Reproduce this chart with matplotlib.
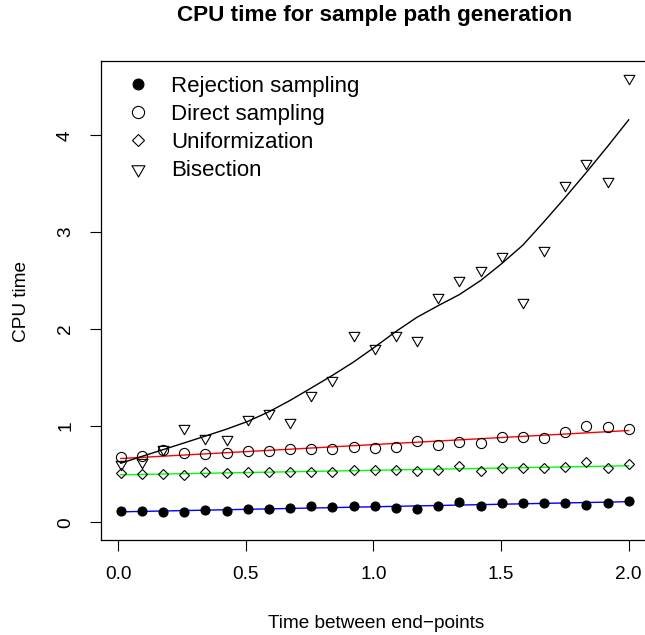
import numpy as np
import matplotlib
matplotlib.use("Agg")
import matplotlib.pyplot as plt
from matplotlib.path import Path

# ---------------- data ----------------
x_start, x_end, n_points = 0.01, 2.0, 25
time_between = np.linspace(x_start, x_end, n_points)

rejection = [0.114, 0.114, 0.111, 0.111, 0.128, 0.114, 0.135, 0.139, 0.145, 0.163,
             0.159, 0.163, 0.170, 0.152, 0.135, 0.170, 0.207, 0.166, 0.194, 0.204,
             0.201, 0.204, 0.176, 0.204, 0.222]
direct = [0.674, 0.681, 0.743, 0.715, 0.709, 0.712, 0.733, 0.736, 0.753, 0.761,
          0.753, 0.781, 0.767, 0.774, 0.839, 0.798, 0.826, 0.823, 0.878, 0.878,
          0.870, 0.933, 0.999, 0.981, 0.968]
uniformization = [0.505, 0.502, 0.502, 0.491, 0.515, 0.512, 0.515, 0.518, 0.518, 0.522,
                  0.515, 0.536, 0.539, 0.536, 0.528, 0.543, 0.577, 0.528, 0.556, 0.556,
                  0.564, 0.570, 0.619, 0.564, 0.601]
bisection = [0.60, 0.62, 0.76, 0.97, 0.87, 0.86, 1.07, 1.13, 1.04, 1.32,
             1.47, 1.94, 1.80, 1.94, 1.88, 2.33, 2.50, 2.61, 2.75, 2.28,
             2.81, 3.49, 3.71, 3.53, 4.59]

labels = ["Rejection sampling", "Direct sampling", "Uniformization", "Bisection"]
x_ticks = [0.0, 0.5, 1.0, 1.5, 2.0]
y_ticks = [0, 1, 2, 3, 4]
title = "CPU time for sample path generation"
xlabel = "Time between end\u2212points"
ylabel = "CPU time"


def lowess(x, y, f=0.5, it=0):
    """Locally weighted linear smoother (tricube weights)."""
    x = np.asarray(x, float)
    y = np.asarray(y, float)
    n = len(x)
    ns = max(min(int(f * n + 1e-7), n), 2)
    rw = np.ones(n)
    fit = np.empty(n)
    for k in range(it + 1):
        for i in range(n):
            d = np.abs(x - x[i])
            h = np.sort(d)[ns - 1]
            u = np.clip(d / h, 0, 1)
            w = (1 - u ** 3) ** 3 * rw
            sw = w.sum()
            xm = (w * x).sum() / sw
            ym = (w * y).sum() / sw
            den = (w * (x - xm) ** 2).sum()
            b = (w * (x - xm) * (y - ym)).sum() / den if den > 1e-12 else 0.0
            fit[i] = ym + b * (x[i] - xm)
        if k == it:
            break
        res = y - fit
        s = np.median(np.abs(res))
        if s == 0:
            break
        u = np.clip(res / (6 * s), -1, 1)
        rw = (1 - u ** 2) ** 2
    return fit


def linfit(x, y):
    c = np.polyfit(x, y, 1)
    return np.polyval(c, x)


# R-like down triangle (pch 6)
tri_down = Path([(-0.866, 0.5), (0.866, 0.5), (0.0, -1.0), (-0.866, 0.5)],
                [Path.MOVETO, Path.LINETO, Path.LINETO, Path.CLOSEPOLY])

plt.rcParams['font.family'] = ['Liberation Sans', 'DejaVu Sans']

W, H = 645, 635
fig = plt.figure(figsize=(W / 100, H / 100), dpi=100)
ax = fig.add_axes([100.5 / W, (H - 540) / H, 548.5 / W, 479.5 / H])

lw = 1.0
ax.plot(time_between, linfit(time_between, rejection), color='#0000FF', lw=lw, zorder=2)
ax.plot(time_between, linfit(time_between, direct), color='#FF0000', lw=lw, zorder=2)
ax.plot(time_between, linfit(time_between, uniformization), color='#00FF00', lw=lw, zorder=2)
ax.plot(time_between, lowess(time_between, bisection, f=0.5, it=0), color='black',
        lw=lw, zorder=2)

h1, = ax.plot(time_between, rejection, linestyle='none', marker='o', ms=6.5,
              mfc='black', mec='black', mew=0.8, zorder=3, label=labels[0])
h2, = ax.plot(time_between, direct, linestyle='none', marker='o', ms=7.3,
              mfc='none', mec='black', mew=0.8, zorder=3, label=labels[1])
h3, = ax.plot(time_between, uniformization, linestyle='none', marker='D', ms=5.4,
              mfc='none', mec='black', mew=0.8, zorder=3, label=labels[2])
h4, = ax.plot(time_between, bisection, linestyle='none', marker=tri_down, ms=9.0,
              mfc='none', mec='black', mew=0.8, zorder=3, label=labels[3])

all_y = np.concatenate([rejection, direct, uniformization, bisection])
ymax = all_y.max()
ax.set_ylim(-0.04 * ymax, ymax * 1.04)
xr = x_end - x_start
ax.set_xlim(x_start - 0.04 * xr, x_end + 0.04 * xr)

ax.set_xticks(x_ticks)
ax.set_xticklabels([f"{v:.1f}" for v in x_ticks])
ax.set_yticks(y_ticks)
ax.set_yticklabels([str(v) for v in y_ticks], rotation=90, va='center')
ax.tick_params(axis='both', direction='out', length=8, width=0.8, labelsize=13.7,
               color='black')
ax.tick_params(axis='x', pad=11)
ax.tick_params(axis='y', pad=11)
for s in ax.spines.values():
    s.set_linewidth(0.9)
    s.set_color('black')

fig.text(375 / W, 1 - 16 / H, title, ha='center', va='center', fontsize=16.2,
         fontweight='bold')
fig.text(376 / W, 1 - 623 / H, xlabel, ha='center', va='center', fontsize=13.7)
fig.text(21 / W, 1 - 302 / H, ylabel, ha='center', va='center', fontsize=13.7,
         rotation=90)

leg = ax.legend(handles=[h1, h2, h3, h4], loc='upper left',
                bbox_to_anchor=(127 / W, 1 - 76 / H), bbox_transform=fig.transFigure,
                frameon=False, fontsize=16, markerscale=1.2, handlelength=1.0,
                handletextpad=1.0, labelspacing=0.32, borderpad=0, borderaxespad=0)

fig.savefig("out.png", dpi=100)
